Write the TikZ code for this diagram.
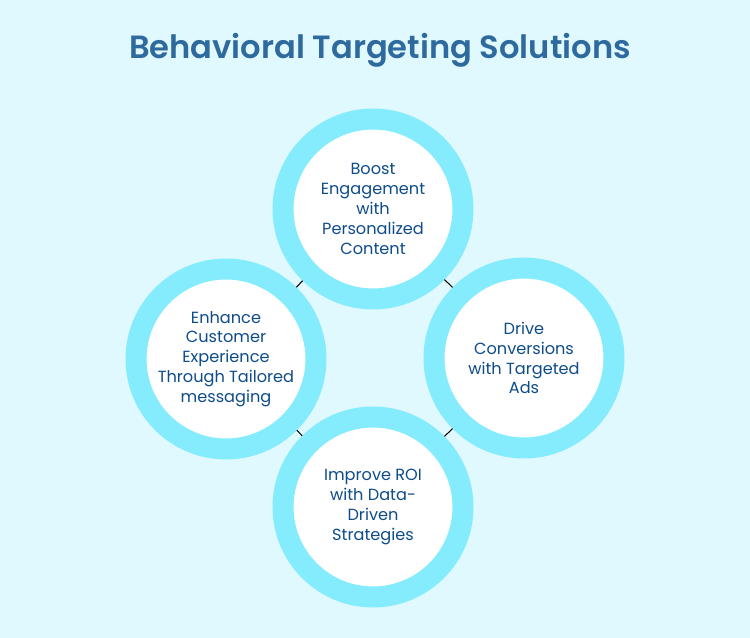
\documentclass[tikz,border=0pt]{standalone}
\usepackage{fontspec}
\setmainfont{Poppins}
\newfontfamily\titlefont{Poppins SemiBold}
\definecolor{bgcyan}{HTML}{E0F9FE}
\definecolor{ringcyan}{HTML}{84ECFD}
\definecolor{textblue}{HTML}{0E4C8A}
\definecolor{titleblue}{HTML}{2E6A9E}
\tikzset{
  goal/.style={circle, draw=ringcyan, line width=0.42cm, fill=white,
    minimum size=3.6cm, inner sep=0pt, align=center, text=textblue,
    font=\fontsize{9.2}{11.3}\selectfont},
  link/.style={black, line width=0.6pt}
}
\begin{document}
\begin{tikzpicture}[x=0.02cm, y=-0.02cm]
    % Background
    \fill[bgcyan] (0,0) rectangle (750,638);

    % Title
    \node[text=titleblue, font=\titlefont\fontsize{18.3}{22}\selectfont] (title) at (380,50) {Behavioral Targeting Solutions};

    % Circles
    \node[goal] (boost) at (373,209) {Boost\\Engagement\\with\\Personalized\\Content};
    \node[goal] (enhance) at (226,359) {Enhance\\Customer\\Experience\\Through Tailored\\messaging};
    \node[goal] (drive) at (524,358) {Drive\\Conversions\\with Targeted\\Ads};
    \node[goal] (roi) at (373,507) {Improve ROI\\with Data-\\Driven\\Strategies};

    % Links
    \draw[link] (enhance) -- (boost);
    \draw[link] (boost) -- (drive);
    \draw[link] (enhance) -- (roi);
    \draw[link] (drive) -- (roi);
\end{tikzpicture}
\end{document}
